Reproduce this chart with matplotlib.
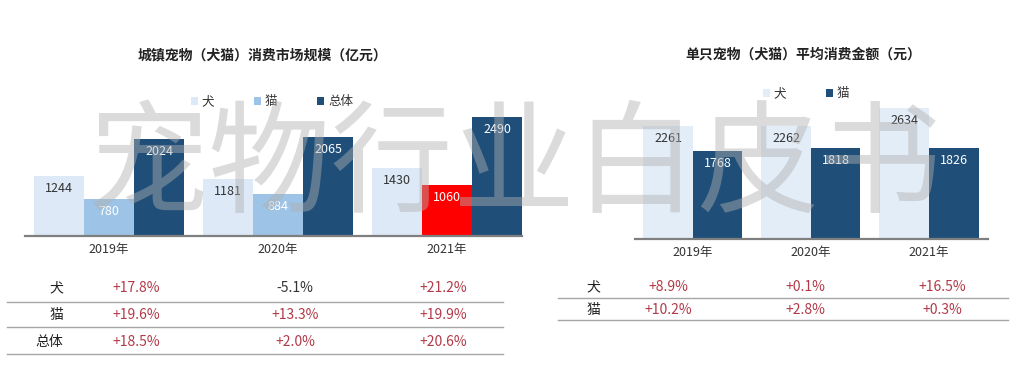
import matplotlib

matplotlib.use("Agg")
import matplotlib.pyplot as plt
import numpy as np
from matplotlib.lines import Line2D

plt.rcParams["font.family"] = ["Noto Sans CJK SC", "DejaVu Sans"]

W, H = 1030, 371

# left chart: market size (亿元)
years = ["2019年", "2020年", "2021年"]
market_dog = [1244, 1181, 1430]
market_cat = [780, 884, 1060]
market_total = [2024, 2065, 2490]
market_growth = {
    "犬": ["+17.8%", "-5.1%", "+21.2%"],
    "猫": ["+19.6%", "+13.3%", "+19.9%"],
    "总体": ["+18.5%", "+2.0%", "+20.6%"],
}

# right chart: average spend per pet (元)
spend_dog = [2261, 2262, 2634]
spend_cat = [1768, 1818, 1826]
spend_growth = {
    "犬": ["+8.9%", "+0.1%", "+16.5%"],
    "猫": ["+10.2%", "+2.8%", "+0.3%"],
}

C_DOG = "#dde9f6"
C_CAT = "#9dc3e6"
C_TOTAL = "#1f4e79"
C_HI = "#ff0000"
C_RED = "#b23a48"
C_TXT = "#333333"


def fx(x):
    return x / W


def fy(y):
    return 1 - y / H


def axes_px(fig, x0, x1, ytop, ybase):
    return fig.add_axes([fx(x0), fy(ybase), (x1 - x0) / W, (ybase - ytop) / H])


def bar_labels(ax, bars, vals, color):
    for b, v in zip(bars, vals):
        ax.annotate(str(v), (b.get_x() + b.get_width() / 2, b.get_height()),
                    xytext=(0, -9), textcoords="offset points",
                    ha="center", va="center", fontsize=9, color=color)


def style(ax, xlim, ylim):
    ax.set_xlim(*xlim)
    ax.set_ylim(*ylim)
    for s in ["left", "right", "top"]:
        ax.spines[s].set_visible(False)
    ax.spines["bottom"].set_color("#7f7f7f")
    ax.spines["bottom"].set_linewidth(1.6)
    ax.set_yticks([])
    ax.set_xticks(range(3))
    ax.set_xticklabels(years, fontsize=9, color=C_TXT)
    ax.tick_params(axis="x", length=0, pad=5)
    ax.patch.set_alpha(0)


def table(fig, rows, label_x, label_ha, val_xs, row_ys, line_ys, x0, x1):
    for (name, vals), y in zip(rows.items(), row_ys):
        fig.text(fx(label_x), fy(y), name, ha=label_ha, va="center",
                 fontsize=10, color="#222222")
        for v, xv in zip(vals, val_xs):
            col = "#333333" if v.startswith("-") else C_RED
            fig.text(fx(xv), fy(y), v, ha="center", va="center",
                     fontsize=10, color=col)
    for y in line_ys:
        fig.add_artist(Line2D([fx(x0), fx(x1)], [fy(y), fy(y)],
                              color="#a6a6a6", lw=1))


fig = plt.figure(figsize=(W / 100, H / 100), dpi=100)

# ---- left chart
ax1 = axes_px(fig, 25, 522, 106, 236)
x = np.arange(3)
bw = 0.296
b1 = ax1.bar(x - bw, market_dog, bw, color=C_DOG, label="犬")
b2 = ax1.bar(x, market_cat, bw, color=[C_CAT, C_CAT, C_HI], label="猫")
b3 = ax1.bar(x + bw, market_total, bw, color=C_TOTAL, label="总体")
bar_labels(ax1, b1, market_dog, C_TXT)
bar_labels(ax1, b2, market_cat, "white")
bar_labels(ax1, b3, market_total, "white")
style(ax1, (-0.497, 2.444), (0, 2717))
leg = ax1.legend(handles=[b1, b2[0], b3], labels=["犬", "猫", "总体"],
                 loc="center", bbox_to_anchor=(fx(272), fy(102)),
                 bbox_transform=fig.transFigure, ncol=3, frameon=False,
                 fontsize=9, handlelength=0.55, handleheight=0.55,
                 handletextpad=0.3, columnspacing=3.2)
for t in leg.get_texts():
    t.set_color(C_TXT)
fig.text(fx(262), fy(55), "城镇宠物（犬猫）消费市场规模（亿元）", ha="center",
         va="center", fontsize=10, fontweight="bold", color="#222222")

# ---- right chart
ax2 = axes_px(fig, 635, 988, 100, 239)
bw2 = 0.42
r1 = ax2.bar(x - bw2 / 2, spend_dog, bw2, color="#e2edf8", label="犬")
r2 = ax2.bar(x + bw2 / 2, spend_cat, bw2, color=C_TOTAL, label="猫")
bar_labels(ax2, r1, spend_dog, C_TXT)
bar_labels(ax2, r2, spend_cat, "white")
style(ax2, (-0.49, 2.5), (0, 2790))
leg2 = ax2.legend(loc="center", bbox_to_anchor=(fx(806), fy(94)),
                  bbox_transform=fig.transFigure, ncol=2, frameon=False,
                  fontsize=9, handlelength=0.55, handleheight=0.55,
                  handletextpad=0.3, columnspacing=3.2)
for t in leg2.get_texts():
    t.set_color(C_TXT)
fig.text(fx(803), fy(55), "单只宠物（犬猫）平均消费金额（元）", ha="center",
         va="center", fontsize=10, fontweight="bold", color="#222222")

# ---- tables under the charts
table(fig, market_growth, 63, "right", [136, 295, 443], [288, 315, 342],
      [302, 327, 354], 7, 503)
table(fig, spend_growth, 593, "center", [668, 805, 942], [287, 310],
      [298, 320], 558, 1008)

# watermark across the whole picture
fig.text(fx(514), fy(168), "宠物行业白皮书", ha="center", va="center",
         fontsize=88, fontweight="medium", color="#b0b0b0", alpha=0.45,
         zorder=10)

fig.savefig("out.png", dpi=100, facecolor="white")
